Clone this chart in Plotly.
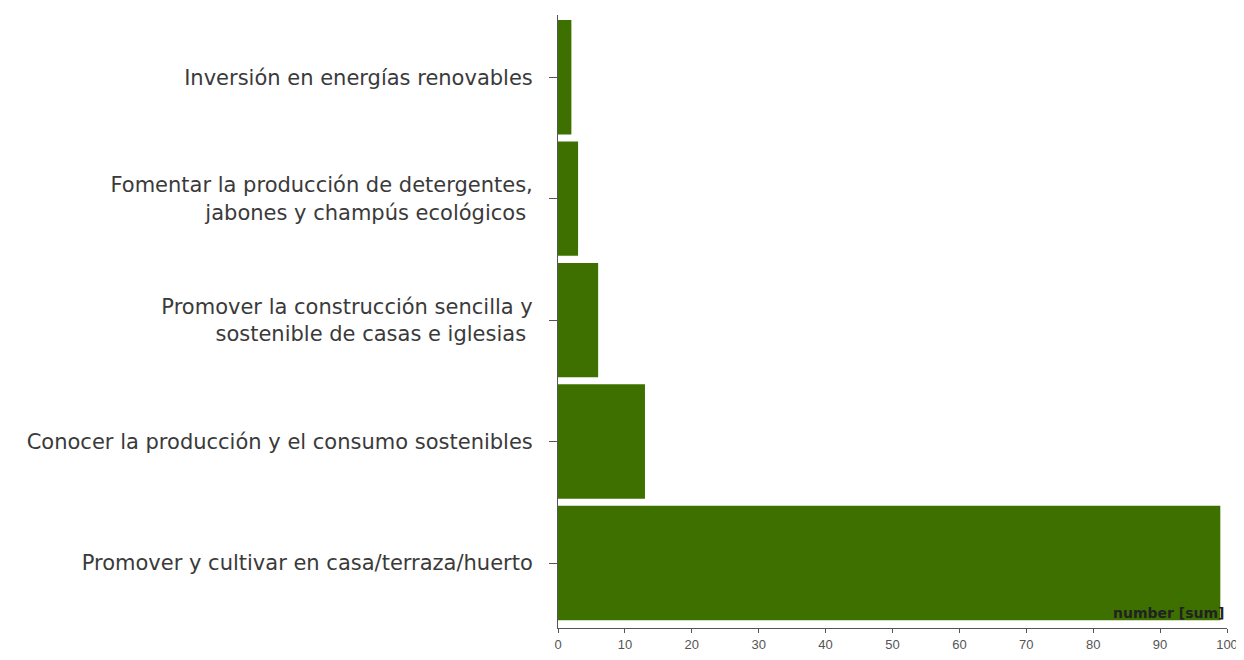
import plotly.graph_objects as go

categories = [
    "Promover y cultivar en casa/terraza/huerto",
    "Conocer la producción y el consumo sostenibles",
    "Promover la construcción sencilla y<br>sostenible de casas e iglesias ",
    "Fomentar la producción de detergentes,<br>jabones y champús ecológicos ",
    "Inversión en energías renovables",
]
values = [99, 13, 6, 3, 2]
x_ticks = [0, 10, 20, 30, 40, 50, 60, 70, 80, 90, 100]

fig = go.Figure(go.Bar(
    x=values, y=categories, orientation="h",
    marker=dict(color="#3e7000", line=dict(width=0)),
))

fig.update_layout(
    width=1236, height=644,
    margin=dict(l=550, r=17, t=7, b=24),
    paper_bgcolor="white", plot_bgcolor="white",
    bargap=0.058,
    showlegend=False,
    font=dict(family="DejaVu Sans, sans-serif", color="#333333"),
)
fig.update_xaxes(
    range=[0, 100], tickvals=x_ticks, showgrid=False, zeroline=False,
    showline=True, linecolor="#555555", linewidth=1,
    ticks="outside", ticklen=4, tickcolor="#555555",
    tickfont=dict(size=13, color="#555555", family="Liberation Sans, Arial, sans-serif"),
    automargin=False,
)
fig.update_yaxes(
    categoryorder="array", categoryarray=categories,
    range=[-0.535, 4.512],
    showgrid=False, zeroline=False,
    showline=True, linecolor="#555555", linewidth=1,
    ticks="outside", ticklen=8, tickcolor="#555555",
    tickfont=dict(size=21, color="#3a3a3a"),
    ticklabelstandoff=12,
    automargin=False,
)
fig.add_annotation(
    text="<b>number [sum]</b>", xref="paper", yref="paper",
    x=1, y=0.008, xanchor="right", yanchor="bottom", showarrow=False,
    font=dict(size=14, color="#222222"),
)
fig.write_html("out.html")
